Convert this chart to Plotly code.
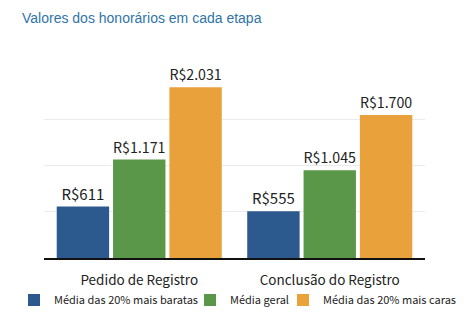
import plotly.graph_objects as go

categories = ["Pedido de Registro", "Conclusão do Registro"]
series_names = ["Média das 20% mais baratas", "Média geral", "Média das 20% mais caras"]
baratas = [611, 555]
geral = [1171, 1045]
caras = [2031, 1700]
colors = ["#2D5A8E", "#5A9749", "#E9A23B"]

LF = "Noto Sans CJK JP"
legend_ids = ["legend", "legend2", "legend3"]
legend_x = [14, 190, 283]  # left edges (px) of each legend entry

def fmt(v):
    return "R$" + f"{v:,}".replace(",", ".")

fig = go.Figure()
for name, vals, col, lid in zip(series_names, [baratas, geral, caras], colors, legend_ids):
    fig.add_trace(go.Bar(
        x=categories, y=vals, name=name, marker_color=col, marker_line_width=0,
        text=[fmt(v) for v in vals], textposition="outside", cliponaxis=False,
        textfont=dict(family=LF, size=15, color="#222222"), legend=lid,
    ))

leg_common = dict(orientation="h", xanchor="left", xref="container", y=22/322, yref="container",
                  yanchor="middle", font=dict(family=LF, size=11, color="#222222"),
                  itemwidth=30, bgcolor="rgba(0,0,0,0)", borderwidth=0)

fig.update_layout(
    width=474, height=322,
    margin=dict(l=44, r=49, t=73, b=64, autoexpand=False),
    paper_bgcolor="white", plot_bgcolor="white",
    barmode="group", bargap=0.113, bargroupgap=0.07,
    title=dict(text="Valores dos honorários em cada etapa", x=22/474, xref="container", xanchor="left",
               y=1-18/322, yref="container", yanchor="middle",
               font=dict(family="Liberation Sans, Arial", size=14, color="#2F74A6")),
    showlegend=True,
    legend=dict(x=legend_x[0]/474, **leg_common),
    legend2=dict(x=legend_x[1]/474, **leg_common),
    legend3=dict(x=legend_x[2]/474, **leg_common),
    xaxis=dict(showline=True, linecolor="#111111", linewidth=1.5, ticks="outside", ticklen=9,
               tickcolor="rgba(0,0,0,0)", tickfont=dict(family=LF, size=13.5, color="#222222")),
    yaxis=dict(range=[0, 2200], dtick=550, showgrid=True, gridcolor="#EBEBEB", gridwidth=1,
               showticklabels=False, zeroline=False),
)

fig.write_html("out.html")
